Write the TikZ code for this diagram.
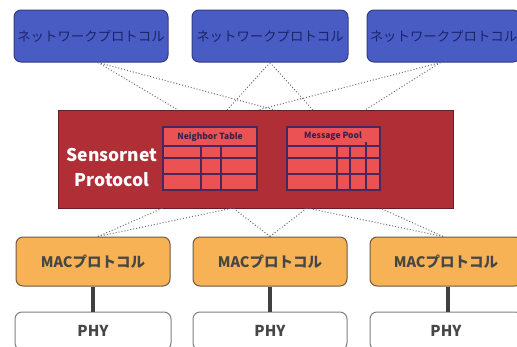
\documentclass[tikz,border=0pt]{standalone}
\usepackage{fontspec}
\setmainfont{Noto Sans CJK JP}
\usetikzlibrary{calc}
\definecolor{bluefill}{RGB}{72,92,196}
\definecolor{blueedge}{RGB}{50,60,130}
\definecolor{bluetext}{RGB}{28,36,105}
\definecolor{redfill}{RGB}{176,46,54}
\definecolor{rededge}{RGB}{100,30,40}
\definecolor{tablefill}{RGB}{234,82,84}
\definecolor{gridc}{RGB}{70,40,90}
\definecolor{orfill}{RGB}{246,178,84}
\definecolor{oredge}{RGB}{110,90,70}
\definecolor{txtgray}{RGB}{70,70,70}
\definecolor{dotc}{RGB}{110,110,120}
\tikzset{
  netbox/.style={draw=blueedge, line width=1pt, fill=bluefill, rounded corners=7pt,
    minimum height=52pt, inner sep=0pt, text=bluetext, font=\fontsize{13.4}{14}\selectfont},
  macbox/.style={draw=oredge, line width=1pt, fill=orfill, rounded corners=7pt,
    minimum height=49pt, inner sep=0pt, text=txtgray, font=\bfseries\fontsize{14.5}{15}\selectfont},
  phybox/.style={draw=gray, line width=1pt, fill=white, rounded corners=7pt,
    minimum height=38pt, inner sep=0pt, text=txtgray, font=\bfseries\fontsize{15}{16}\selectfont},
  dotline/.style={draw=dotc, line width=1pt, dotted},
  linkline/.style={draw=black!75, line width=3.2pt},
  gridline/.style={draw=gridc, line width=1.3pt},
}
\begin{document}
\begin{tikzpicture}[x=1pt,y=-1pt]
\useasboundingbox[fill=white] (0,0) rectangle (517,346);
% top boxes
\node[netbox, minimum width=154pt] (n1) at (91,36) {ネットワークプロトコル};
\node[netbox, minimum width=156pt] (n2) at (270,36) {ネットワークプロトコル};
\node[netbox, minimum width=153pt] (n3) at (443.5,36) {ネットワークプロトコル};
% sensornet box
\node[draw=rededge, line width=1pt, fill=redfill, minimum width=395pt, minimum height=98pt, inner sep=0pt] (sp) at (255.5,159) {};
\node[text=white, font=\bfseries\fontsize{17.5}{25}\selectfont, align=center] (spt) at (112,167) {Sensornet\\Protocol};
% neighbor table
\filldraw[fill=tablefill, gridline] (163,127) rectangle (257,190);
\draw[gridline] (163,146) -- (257,146) (163,158) -- (257,158) (163,174) -- (257,174)
  (201,146) -- (201,190) (221,146) -- (221,190);
\node[text=gridc!80!black, font=\bfseries\fontsize{8.5}{9}\selectfont] (nt) at (210,136.5) {Neighbor Table};
% message pool
\filldraw[fill=tablefill, gridline] (287,127) rectangle (380,190);
\draw[gridline] (287,146) -- (380,146) (287,158) -- (380,158) (287,174) -- (380,174)
  (337,146) -- (337,190) (350,146) -- (350,190) (366,142) -- (366,190);
\node[text=gridc!80!black, font=\bfseries\fontsize{8.5}{9}\selectfont] (mp) at (333,136.5) {Message Pool};
% MAC boxes
\node[macbox, minimum width=154pt] (m1) at (93,261.5) {MACプロトコル};
\node[macbox, minimum width=154pt] (m2) at (270,261.5) {MACプロトコル};
\node[macbox, minimum width=152pt] (m3) at (446,261.5) {MACプロトコル};
% PHY boxes
\node[phybox, minimum width=156pt] (p1) at (93,331) {PHY};
\node[phybox, minimum width=154pt] (p2) at (270,331) {PHY};
\node[phybox, minimum width=152pt] (p3) at (446,331) {PHY};
% links
\draw[linkline] (m1.south) -- (p1.north);
\draw[linkline] (m2.south) -- (p2.north);
\draw[linkline] ([xshift=2pt]m3.south) -- ([xshift=2pt]p3.north);
% dotted connector points
\coordinate (ta) at (178,110);
\coordinate (tb) at (227,110);
\coordinate (tc) at (258,110);
\coordinate (td) at (275,110);
\coordinate (te) at (313,110);
\coordinate (tf) at (365,110);
\coordinate (ba) at (163,208);
\coordinate (bb) at (233,208);
\coordinate (bc) at (307,208);
\coordinate (bd) at (380,208);
\draw[dotline] ([xshift=7pt]n1.south) -- (ta);
\draw[dotline] ([xshift=7pt]n1.south) -- (td);
\draw[dotline] (n2.south) -- (tb);
\draw[dotline] (n2.south) -- (te);
\draw[dotline] ([xshift=-3pt]n3.south) -- (tc);
\draw[dotline] ([xshift=-3pt]n3.south) -- (tf);
\draw[dotline] ([xshift=5pt]m1.north) -- (ba);
\draw[dotline] ([xshift=5pt]m1.north) -- (bb);
\draw[dotline] (m2.north) -- (bb);
\draw[dotline] (m2.north) -- (bc);
\draw[dotline] ([xshift=-3pt]m3.north) -- (bc);
\draw[dotline] ([xshift=-3pt]m3.north) -- (bd);
\end{tikzpicture}
\end{document}
